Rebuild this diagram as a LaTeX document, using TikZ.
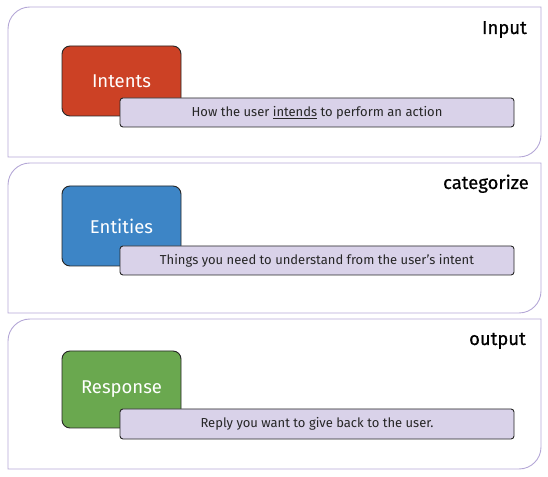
\documentclass[tikz,border=0pt]{standalone}
\usepackage{fontspec}
\setmainfont{Fira Sans}
\newfontfamily\titlefont[FakeBold=0.6]{Fira Sans}
\definecolor{panelline}{HTML}{B4A7D6}
\definecolor{redbox}{HTML}{CC4125}
\definecolor{bluebox}{HTML}{3D85C6}
\definecolor{greenbox}{HTML}{6AA84F}
\definecolor{lavbox}{HTML}{D9D2E9}
\tikzset{
  x=1pt, y=1pt,
  panel/.style={draw=panelline, line width=0.9pt},
  cbox/.style={draw=black!85, line width=0.9pt, rounded corners=8pt, inner sep=0pt,
    minimum width=119pt, text=white, font=\fontsize{18.5}{22}\selectfont},
  descbox/.style={draw=black!85, fill=lavbox, line width=0.9pt, rounded corners=3pt, inner sep=0pt,
    minimum width=394pt, text=black!85, font=\fontsize{13}{15}\selectfont},
  ptitle/.style={anchor=base east, inner sep=0pt, text=black, font=\titlefont\fontsize{18.5}{22}\selectfont}
}
\newcommand{\panelpath}[2]{% #1 = bottom y, #2 = top y
  \draw[panel] (8,#1) -- (8,#2-22) arc[start angle=180, end angle=90, radius=22] -- (541,#2)
    -- (541,#1+22) arc[start angle=0, end angle=-90, radius=22] -- cycle;}
\begin{document}
\begin{tikzpicture}
\useasboundingbox (0,0) rectangle (548,476);
\panelpath{319}{469}
\panelpath{163}{313}
\panelpath{7}{157}

\node[ptitle] (t1) at (527,442) {Input};
\node[ptitle] (t2) at (529,287) {categorize};
\node[ptitle] (t3) at (526,131) {output};

\node[cbox, fill=redbox, minimum height=70pt] (intents) at (121.5,395) {Intents};
\node[descbox, minimum height=29pt] (d1) at (317,363.5) {How the user \underline{intends} to perform an action};

\node[cbox, fill=bluebox, minimum height=80pt] (entities) at (121.5,250) {Entities};
\node[descbox, minimum height=29pt] (d2) at (317,215.5) {Things you need to understand from the user’s intent};

\node[cbox, fill=greenbox, minimum height=77pt] (response) at (121.5,86.5) {Response};
\node[descbox, minimum height=30pt] (d3) at (317,52) {Reply you want to give back to the user.};
\end{tikzpicture}
\end{document}
